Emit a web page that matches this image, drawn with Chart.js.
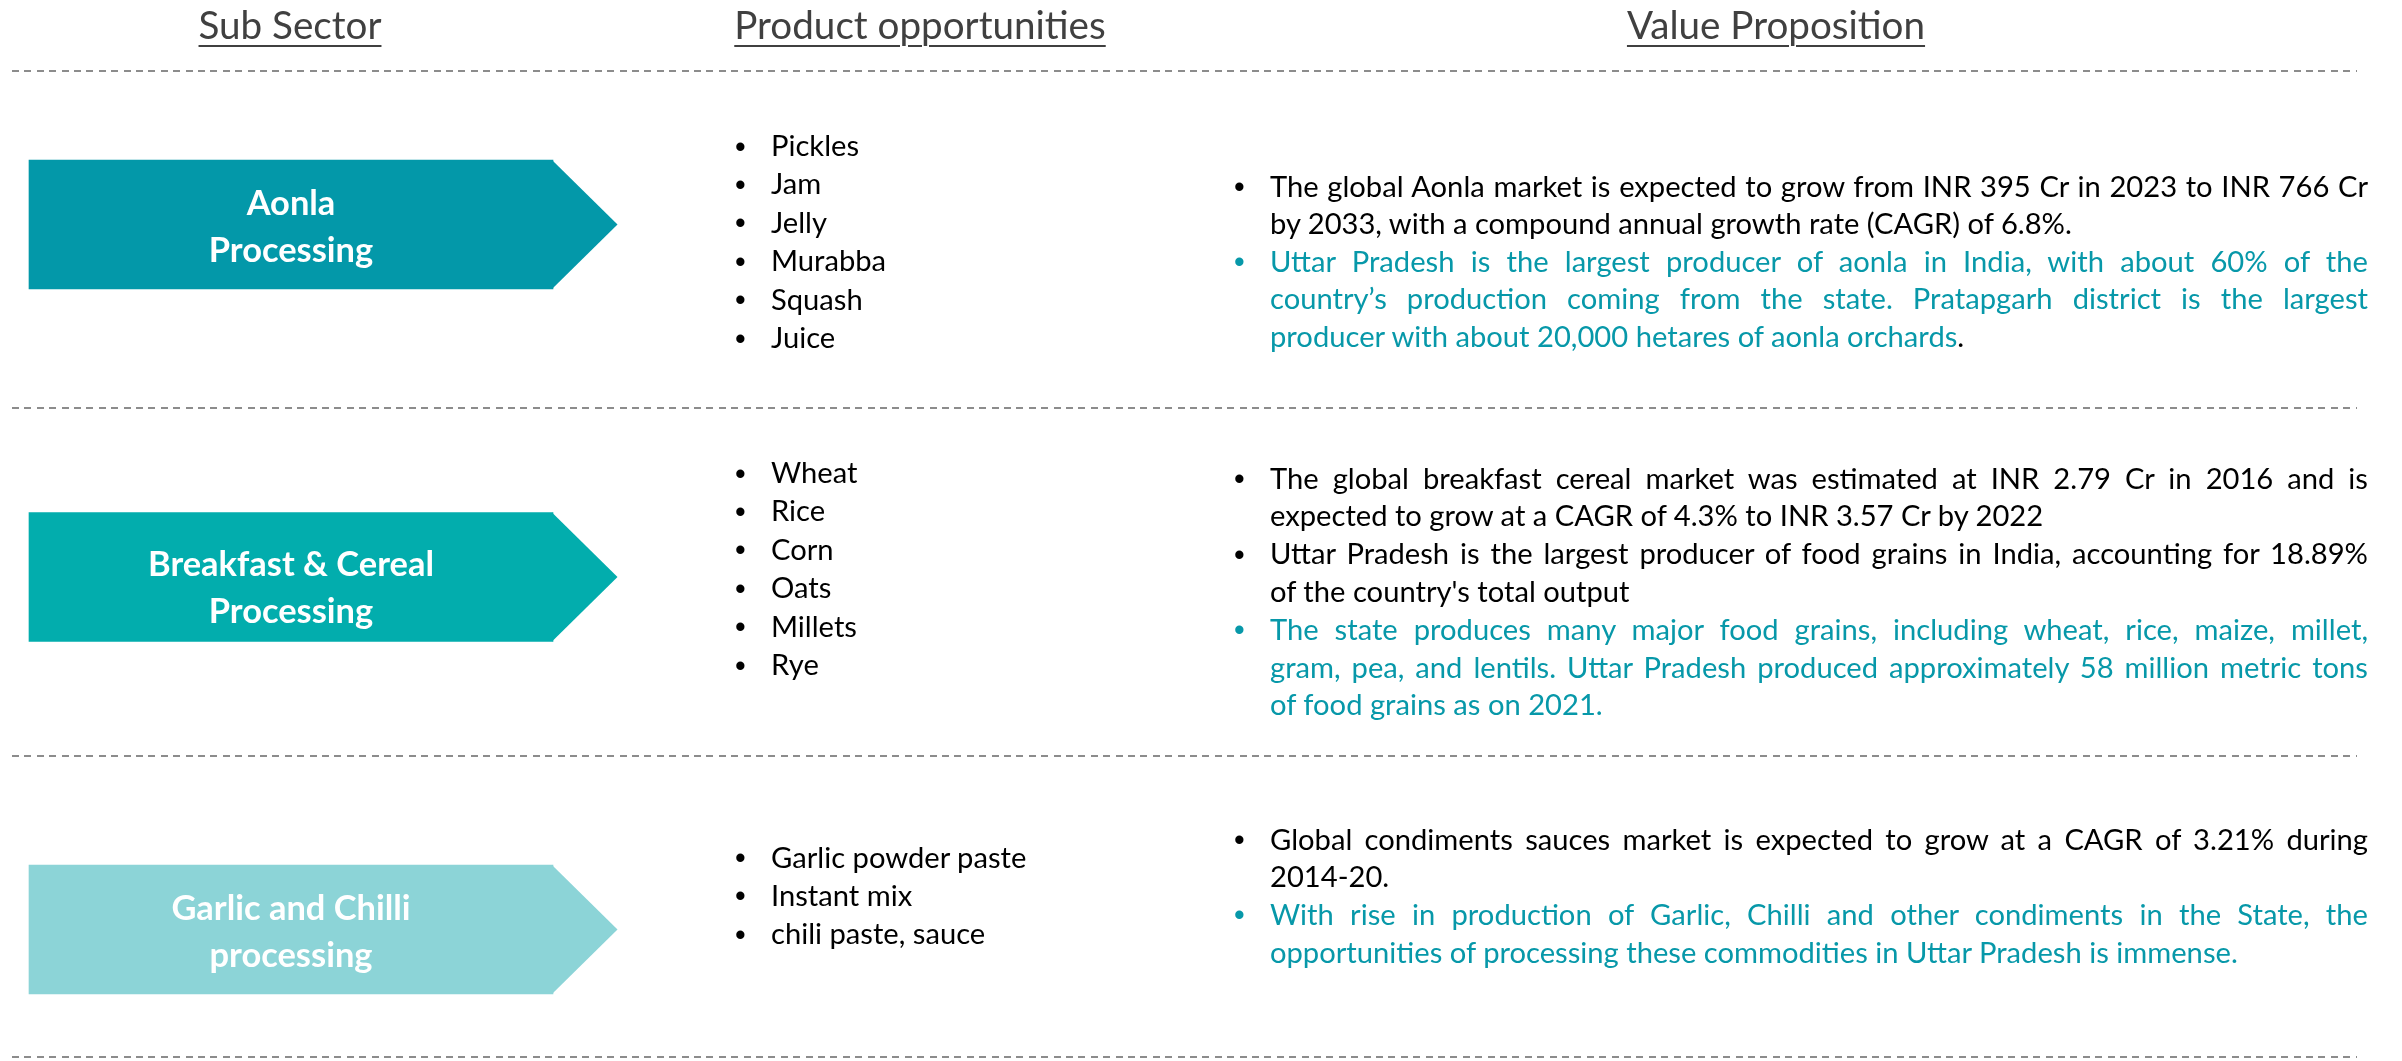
<!DOCTYPE html>
<html>
<head>
<meta charset="utf-8">
<script src="https://cdn.jsdelivr.net/npm/chart.js@4.4.1/dist/chart.umd.min.js"></script>
<style>
html,body{margin:0;padding:0;background:#fff;}
body{width:2402px;height:1061px;position:relative;overflow:hidden;font-family:Lato,'Liberation Sans',sans-serif;}
#chart{position:absolute;left:0;top:0;width:2402px;height:1061px;}
.abs{position:absolute;white-space:nowrap;}
.hdr{color:#404040;text-align:center;text-decoration:underline;text-decoration-thickness:2px;text-underline-offset:6px;}
.dash{position:absolute;left:12px;width:2345px;height:2px;background:repeating-linear-gradient(to right,#8c8c8c 0 7px,transparent 7px 12.4px);}
.lbl{position:absolute;color:#fff;font-weight:700;text-align:center;white-space:nowrap;}
.bul{position:absolute;font-family:'Liberation Sans',Arial,sans-serif;white-space:nowrap;}
.just{text-align:justify;text-align-last:justify;white-space:normal;}
.plain{color:#000;}
.accent{color:#0798A9;}
</style>
</head>
<body>
<canvas id="chart" width="2402" height="1061"></canvas>
<div id="overlay"></div>
<script>
// ---------- content ----------
const headers = ['Sub Sector', 'Product opportunities', 'Value Proposition'];
const subSectors = [['Aonla', 'Processing'], ['Breakfast & Cereal', 'Processing'], ['Garlic and Chilli', 'processing']];
const chevronSpan = [1, 1, 1];
const products = [
  ['Pickles', 'Jam', 'Jelly', 'Murabba', 'Squash', 'Juice'],
  ['Wheat', 'Rice', 'Corn', 'Oats', 'Millets', 'Rye'],
  ['Garlic powder paste', 'Instant mix', 'chili paste, sauce']
];
const propAonla = [
  ['The global Aonla market is expected to grow from INR 395 Cr in 2023 to INR 766 Cr',
   'by 2033, with a compound annual growth rate (CAGR) of 6.8%.'],
  ['Uttar Pradesh is the largest producer of aonla in India, with about 60% of the',
   'country\u2019s production coming from the state. Pratapgarh district is the largest',
   'producer with about 20,000 hetares of aonla orchards']
];
const propCereal = [
  ['The global breakfast cereal market was estimated at INR 2.79 Cr in 2016 and is',
   'expected to grow at a CAGR of 4.3% to INR 3.57 Cr by 2022'],
  ['Uttar Pradesh is the largest producer of food grains in India, accounting for 18.89%',
   'of the country\'s total output'],
  ['The state produces many major food grains, including wheat, rice, maize, millet,',
   'gram, pea, and lentils. Uttar Pradesh produced approximately 58 million metric tons',
   'of food grains as on 2021.']
];
const propGarlic = [
  ['Global condiments sauces market is expected to grow at a CAGR of 3.21% during',
   '2014-20.'],
  ['With rise in production of Garlic, Chilli and other condiments in the State, the',
   'opportunities of processing these commodities in Uttar Pradesh is immense.']
];
const propositions = [propAonla, propCereal, propGarlic];
const propTone = [['plain', 'accent'], ['plain', 'plain', 'accent'], ['plain', 'accent']];
const propTail = [['', '.'], ['', '', ''], ['', '']];

// ---------- styling / layout ----------
const FAMILY = 'Lato';
const chevronColors = ['#0398A9', '#02ADAD', '#8CD4D7'];
const mctx = document.createElement('canvas').getContext('2d');
function widthAt(font, text) { mctx.font = font; return mctx.measureText(text).width; }
function fm(font) { mctx.font = font; const m = mctx.measureText('Hg'); return {asc: m.fontBoundingBoxAscent, desc: m.fontBoundingBoxDescent}; }
const bodySize = 100 * 804 / widthAt(`400 100px ${FAMILY}`, propAonla[0][1]);
const hdrSize = 100 * 183 / widthAt(`400 100px ${FAMILY}`, headers[0]);
const lblSize = 100 * 286 / widthAt(`700 100px ${FAMILY}`, subSectors[1][0]);
const bodyFont = `400 ${bodySize}px ${FAMILY}`;
const overlay = document.getElementById('overlay');

function lineDiv(text, font, baseline, lineH, cls) {
  const d = document.createElement('div');
  d.className = 'abs ' + (cls || '');
  d.style.font = font;
  const {asc, desc} = fm(font);
  d.style.lineHeight = lineH + 'px';
  d.style.height = lineH + 'px';
  d.style.top = (baseline - asc - (lineH - asc - desc) / 2) + 'px';
  d.textContent = text;
  overlay.appendChild(d);
  return d;
}

// headers
const hdrCenters = [290, 920, 1776];
headers.forEach((h, i) => {
  const d = lineDiv(h, `400 ${hdrSize}px ${FAMILY}`, 38.5, 60, 'hdr');
  d.style.left = (hdrCenters[i] - 500) + 'px';
  d.style.width = '1000px';
});

// dashed separators
[71, 408, 756, 1057].forEach(y => {
  const d = document.createElement('div');
  d.className = 'dash';
  d.style.top = (y - 1) + 'px';
  overlay.appendChild(d);
});

// product lists
const prodFirst = [156.5, 483.5, 868];
const prodPitch = 38.4;
products.forEach((list, r) => {
  list.forEach((p, k) => {
    const b = prodFirst[r] + k * prodPitch;
    const t = lineDiv(p, bodyFont, b, 40, 'plain');
    t.style.left = '771px';
    const bu = lineDiv('\u2022', `400 ${bodySize * 1.05}px 'Liberation Sans'`, b, 40, 'plain bul');
    bu.style.left = '735px';
  });
});

// value propositions
const propFirst = [197, 489, 850];
const propPitch = [37.5, 37.8, 37.7];
const textLeft = 1270, textRight = 2368;
propositions.forEach((paras, r) => {
  let k = 0;
  paras.forEach((lines, p) => {
    const tone = propTone[r][p];
    lines.forEach((ln, j) => {
      const b = propFirst[r] + k * propPitch[r];
      const last = j === lines.length - 1;
      const d = lineDiv(ln, bodyFont, b, 40, tone + (last ? '' : ' just'));
      d.style.left = textLeft + 'px';
      if (!last) {
        const w = textRight - textLeft;
        d.style.width = w + 'px';
        const nat = widthAt(bodyFont, ln);
        if (nat > w - 4) d.style.letterSpacing = (-(nat - w + 6) / ln.length) + 'px';
      } else if (propTail[r][p]) {
        const s = document.createElement('span');
        s.className = 'plain';
        s.textContent = propTail[r][p];
        d.appendChild(s);
      }
      if (j === 0) {
        const bu = lineDiv('\u2022', `400 ${bodySize * 1.05}px 'Liberation Sans'`, b, 40, tone + ' bul');
        bu.style.left = '1234px';
      }
      k++;
    });
  });
});

// ---------- chevrons via Chart.js ----------
const chevronTip = {
  id: 'chevronTip',
  afterDatasetsDraw(chart) {
    const meta = chart.getDatasetMeta(0);
    const c = chart.ctx;
    meta.data.forEach((el, i) => {
      const {x, y, height} = el.getProps(['x', 'y', 'height'], true);
      c.save();
      c.fillStyle = chevronColors[i];
      c.beginPath();
      c.moveTo(x - 1, y - height / 2);
      c.lineTo(x + height / 2, y);
      c.lineTo(x - 1, y + height / 2);
      c.closePath();
      c.fill();
      c.restore();
    });
  }
};

const chart = new Chart(document.getElementById('chart'), {
  type: 'bar',
  data: {
    labels: subSectors.map(s => s.join(' ')),
    datasets: [{
      data: chevronSpan,
      backgroundColor: chevronColors,
      borderWidth: 0,
      barThickness: 129,
      clip: false
    }]
  },
  options: {
    indexAxis: 'y',
    responsive: false,
    animation: false,
    events: [],
    layout: {padding: {left: 29, right: 2402 - 553, top: 224.5, bottom: 1061 - 929.5}},
    scales: {
      x: {type: 'linear', min: 0, max: 1, display: false},
      y: {type: 'category', offset: false, display: false, grid: {display: false}}
    },
    plugins: {legend: {display: false}, tooltip: {enabled: false}}
  },
  plugins: [chevronTip]
});

// chevron labels, centred on the drawn bars
const lblFont = `700 ${lblSize}px ${FAMILY}`;
const lblPitch = 47;
const lblShift = [0, 9, 0];
chart.getDatasetMeta(0).data.forEach((el, i) => {
  const {x, y, base} = el.getProps(['x', 'y', 'base'], true);
  const lines = subSectors[i];
  lines.forEach((t, j) => {
    const centre = y + lblShift[i] + (j - (lines.length - 1) / 2) * lblPitch;
    const d = document.createElement('div');
    d.className = 'lbl';
    d.style.font = lblFont;
    d.style.lineHeight = lblPitch + 'px';
    d.style.left = base + 'px';
    d.style.width = (x - base) + 'px';
    d.style.top = (centre - lblPitch / 2) + 'px';
    d.textContent = t;
    overlay.appendChild(d);
  });
});
</script>
</body>
</html>
